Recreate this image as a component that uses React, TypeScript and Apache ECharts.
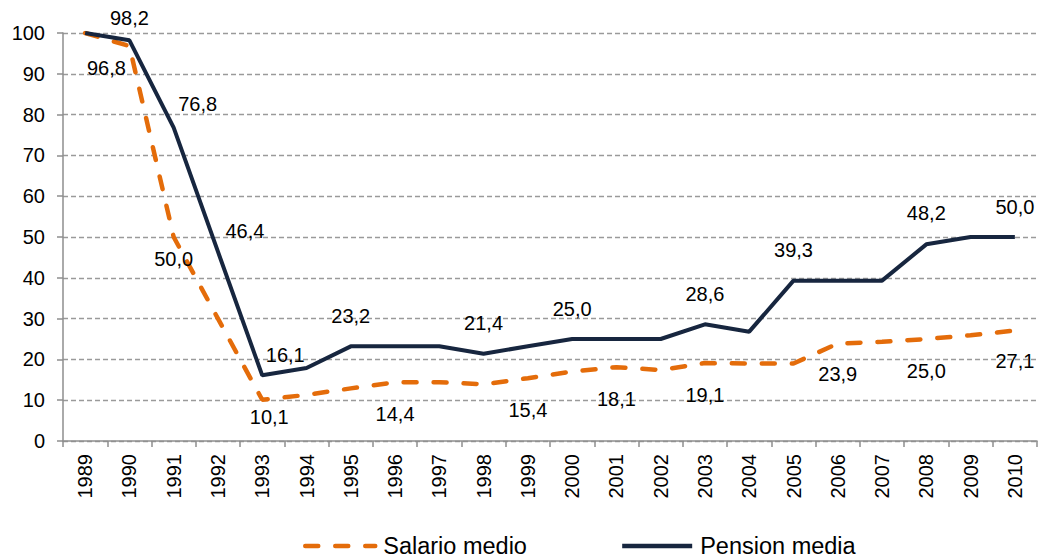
import React, { useEffect, useRef } from "react";
import * as echarts from "echarts";

const years = ["1989","1990","1991","1992","1993","1994","1995","1996","1997","1998","1999","2000","2001","2002","2003","2004","2005","2006","2007","2008","2009","2010"];
const salarioMedio = [100, 96.8, 50.0, 30.0, 10.1, 11.3, 12.9, 14.4, 14.4, 13.9, 15.4, 17.0, 18.1, 17.4, 19.1, 19.0, 19.0, 23.9, 24.3, 25.0, 25.9, 27.1];
const pensionMedia = [100, 98.2, 76.8, 46.4, 16.1, 17.9, 23.2, 23.2, 23.2, 21.4, 23.2, 25.0, 25.0, 25.0, 28.6, 26.8, 39.3, 39.3, 39.3, 48.2, 50.0, 50.0];
const yTicks = { min: 0, max: 100, interval: 10 };

// label placement (offsets in px from the point) for labelled points
const pensionLabels: Record<number, [number, number]> = {
  1: [0, -22], 2: [24, -24], 3: [27, -21], 4: [23, -20], 6: [0, -30], 9: [0, -31],
  11: [0, -30], 14: [0, -30], 16: [0, -31], 19: [0, -31], 21: [0, -30],
};
const salarioLabels: Record<number, [number, number]> = {
  1: [-23, 22], 2: [0, 22], 4: [7, 17], 7: [0, 32], 10: [0, 32], 12: [0, 32],
  14: [0, 32], 17: [0, 31], 19: [0, 32], 21: [0, 31],
};

const fmt = (v: number) => v.toFixed(1).replace(".", ",");
const FONT = "'Liberation Sans', Arial, sans-serif";

function buildData(values: number[], labels: Record<number, [number, number]>) {
  return values.map((v, i) => {
    const off = labels[i];
    return {
      value: v,
      label: off
        ? { show: true, position: "inside", offset: off, formatter: fmt(v) }
        : { show: false },
    };
  });
}

export default function App() {
  const ref = useRef<HTMLDivElement>(null);
  useEffect(() => {
    if (!ref.current) return;
    const chart = echarts.init(ref.current, undefined, { renderer: "svg" });
    const labelStyle = { color: "#000", fontSize: 20, fontFamily: FONT };
    chart.setOption({
      animation: false,
      textStyle: { fontFamily: FONT },
      grid: { left: 63, right: 1, top: 33, bottom: 119, containLabel: false },
      legend: {
        top: 534,
        left: 303,
        padding: 0,
        itemWidth: 70,
        itemHeight: 10,
        itemGap: 93,
        lineStyle: { width: 4.5 },
        textStyle: { fontSize: 23.5, color: "#000", fontFamily: FONT, padding: [0, 0, 0, 3] },
        data: ["Salario medio", "Pension media"],
      },
      xAxis: {
        type: "category",
        data: years,
        boundaryGap: true,
        axisLine: { lineStyle: { color: "#8e8e8e", width: 1.5 } },
        axisTick: { show: true, length: 6, alignWithLabel: false, lineStyle: { color: "#8e8e8e", width: 1.5 } },
        axisLabel: { rotate: 90, fontSize: 20, color: "#000", margin: 13, interval: 0, fontFamily: FONT },
        splitLine: { show: false },
      },
      yAxis: {
        type: "value",
        min: yTicks.min,
        max: yTicks.max,
        interval: yTicks.interval,
        axisLine: { show: true, lineStyle: { color: "#8e8e8e", width: 1.5 } },
        axisTick: { show: true, length: 6, lineStyle: { color: "#8e8e8e", width: 1.5 } },
        axisLabel: { fontSize: 20, color: "#000", margin: 18, fontFamily: FONT },
        splitLine: { show: true, lineStyle: { color: "#9a9a9a", width: 1.3, type: [5, 3] } },
      },
      series: [
        {
          name: "Salario medio",
          type: "line",
          data: buildData(salarioMedio, salarioLabels),
          symbol: "circle",
          symbolSize: 1,
          showSymbol: true,
          itemStyle: { color: "rgba(0,0,0,0)" },
          lineStyle: { color: "#E46C0A", width: 4.5, type: [13, 17], cap: "round" },
          label: labelStyle,
          z: 2,
        },
        {
          name: "Pension media",
          type: "line",
          data: buildData(pensionMedia, pensionLabels),
          symbol: "circle",
          symbolSize: 1,
          showSymbol: true,
          itemStyle: { color: "rgba(0,0,0,0)" },
          lineStyle: { color: "#17263F", width: 4 },
          label: labelStyle,
          z: 3,
        },
      ],
    });
    return () => chart.dispose();
  }, []);
  return (
    <div
      ref={ref}
      style={{ position: "fixed", left: 0, top: 0, width: 1038, height: 560, background: "#fff" }}
    />
  );
}
